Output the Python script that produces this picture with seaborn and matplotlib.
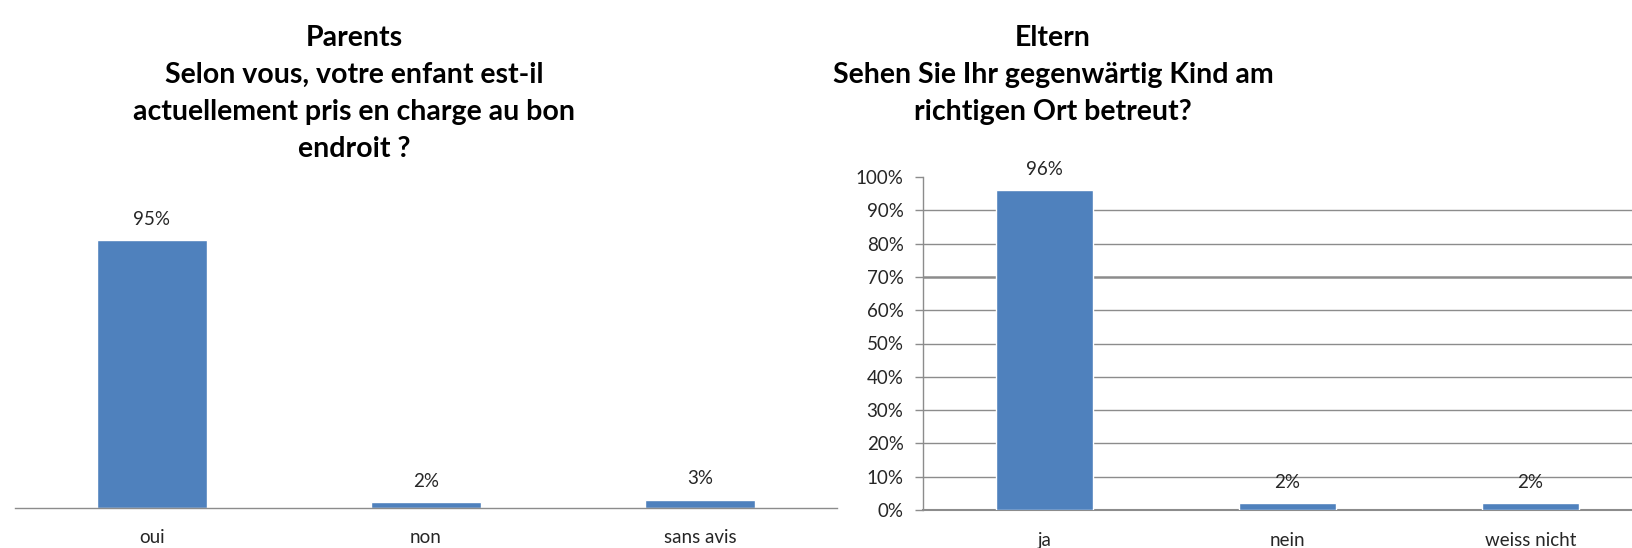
import matplotlib
matplotlib.use("Agg")
import matplotlib.pyplot as plt
from matplotlib import font_manager
import seaborn as sns
import pandas as pd

# ---- data ----
fr_categories = ["oui", "non", "sans avis"]
fr_values = [95, 2, 3]
de_categories = ["ja", "nein", "weiss nicht"]
de_values = [96, 2, 2]
fr_title = "Parents\nSelon vous, votre enfant est-il\nactuellement pris en charge au bon\nendroit ?"
de_title = "Eltern\nSehen Sie Ihr gegenwärtig Kind am\nrichtigen Ort betreut?"
y_ticks = [0, 10, 20, 30, 40, 50, 60, 70, 80, 90, 100]

sns.set_theme(style="white")
available = {f.name for f in font_manager.fontManager.ttflist}
fam = "Lato" if "Lato" in available else "Liberation Sans"
plt.rcParams["font.family"] = [fam, "DejaVu Sans"]

BAR = "#4F81BD"
GRID = "#8c8c8c"
TXT = "#262626"

fig = plt.figure(figsize=(16.32, 5.48), dpi=100)

df_fr = pd.DataFrame({"cat": fr_categories, "val": fr_values})
df_de = pd.DataFrame({"cat": de_categories, "val": de_values})

# left panel
ax1 = fig.add_axes([15 / 1632, 40 / 548, 822 / 1632, 282 / 548])
sns.barplot(data=df_fr, x="cat", y="val", color=BAR, width=0.4, saturation=1, ax=ax1)
ax1.set_ylim(0, 100)
ax1.set_xlim(-0.5, 2.5)
ax1.set_yticks([])
for s in ["top", "right", "left"]:
    ax1.spines[s].set_visible(False)
ax1.spines["bottom"].set_color(GRID)
ax1.spines["bottom"].set_linewidth(1.0)
ax1.set_xlabel("")
ax1.set_ylabel("")
ax1.tick_params(axis="x", which="major", length=0, pad=15, labelsize=13.5, labelcolor=TXT)
ax1.set_xticks([-0.5, 0.5, 1.5, 2.5], minor=True)
ax1.tick_params(axis="x", which="minor", length=6, color=GRID, width=1, direction="out")
for c in ax1.containers:
    ax1.bar_label(c, labels=[f"{v}%" for v in fr_values], padding=9, fontsize=13.5, color=TXT)

# right panel
ax2 = fig.add_axes([923 / 1632, 38 / 548, 729 / 1632, 333 / 548])
sns.barplot(data=df_de, x="cat", y="val", color=BAR, width=0.4, saturation=1, ax=ax2, zorder=3)
ax2.set_ylim(0, 100)
ax2.set_xlim(-0.5, 2.5)
ax2.set_yticks(y_ticks)
ax2.set_yticklabels([f"{t}%" for t in y_ticks])
ax2.yaxis.grid(True, color=GRID, linewidth=1.0)
ax2.set_axisbelow(True)
gl = ax2.get_ygridlines()
gl[-1].set_visible(False)
gl[7].set_linewidth(1.8)
for s in ["top", "right"]:
    ax2.spines[s].set_visible(False)
for s in ["left", "bottom"]:
    ax2.spines[s].set_color(GRID)
    ax2.spines[s].set_linewidth(1.0)
ax2.spines["bottom"].set_linewidth(1.5)
ax2.set_xlabel("")
ax2.set_ylabel("")
ax2.tick_params(axis="y", length=6, color=GRID, width=1, direction="out", left=True,
                pad=8, labelsize=13.5, labelcolor=TXT)
ax2.tick_params(axis="x", which="major", length=0, pad=16, labelsize=13.5, labelcolor=TXT)
ax2.set_xticks([-0.5, 0.5, 1.5, 2.5], minor=True)
ax2.tick_params(axis="x", which="minor", length=7, color=GRID, width=1, direction="out")
for c in ax2.containers:
    ax2.bar_label(c, labels=[f"{v}%" for v in de_values], padding=9, fontsize=13.5, color=TXT)

# titles
fig.text(354 / 1632, 1 - 25 / 548, fr_title, ha="center", va="top", fontsize=20.5,
         fontweight="bold", color="black", linespacing=1.53)
fig.text(1053 / 1632, 1 - 25 / 548, de_title, ha="center", va="top", fontsize=20.5,
         fontweight="bold", color="black", linespacing=1.53)

fig.savefig("out.png", dpi=100)
